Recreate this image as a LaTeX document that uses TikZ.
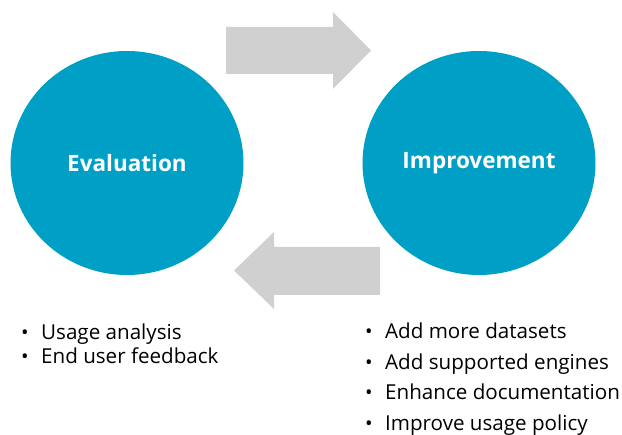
\documentclass[tikz,border=0pt]{standalone}
\usepackage{fontspec}
\setmainfont{Open Sans}
\usetikzlibrary{shapes.geometric}
\definecolor{cyc}{RGB}{0,160,198}
\definecolor{arr}{RGB}{208,208,208}
\begin{document}
\begin{tikzpicture}[x=1pt,y=-1pt,
  stage/.style={ellipse,fill=cyc,minimum width=233pt,minimum height=224pt,inner sep=0pt,text=white,font=\fontsize{22.5}{26}\selectfont\bfseries},
  item/.style={anchor=base west,inner sep=0pt,font=\fontsize{20.6}{24}\selectfont,text=black},
  dot/.style={anchor=base west,inner sep=0pt,font=\fontsize{20}{24}\selectfont}]
\useasboundingbox (0,0) rectangle (622,435);
\node[stage] (ev) at (127,163) {Evaluation};
\node[stage] (im) at (479,163) {Improvement};
% top arrow
\fill[arr] (226,27) -- (333,27) -- (333,12) -- (371,50.5) -- (333,89) -- (333,74) -- (226,74) -- cycle;
% bottom arrow
\fill[arr] (380,247) -- (274,247) -- (274,232) -- (234,270.5) -- (274,309) -- (274,295) -- (380,295) -- cycle;
% left list
\node[dot] (b1) at (21,340) {•};
\node[item] (t1) at (41,340) {Usage analysis};
\node[dot] (b2) at (21,364) {•};
\node[item] (t2) at (41,364) {End user feedback};
% right list
\node[dot] (c1) at (365,339) {•};
\node[item] (r1) at (385,339) {Add more datasets};
\node[dot] (c2) at (365,370) {•};
\node[item] (r2) at (385,370) {Add supported engines};
\node[dot] (c3) at (365,400) {•};
\node[item] (r3) at (385,400) {Enhance documentation};
\node[dot] (c4) at (365,431) {•};
\node[item] (r4) at (385,431) {Improve usage policy};
\end{tikzpicture}
\end{document}
